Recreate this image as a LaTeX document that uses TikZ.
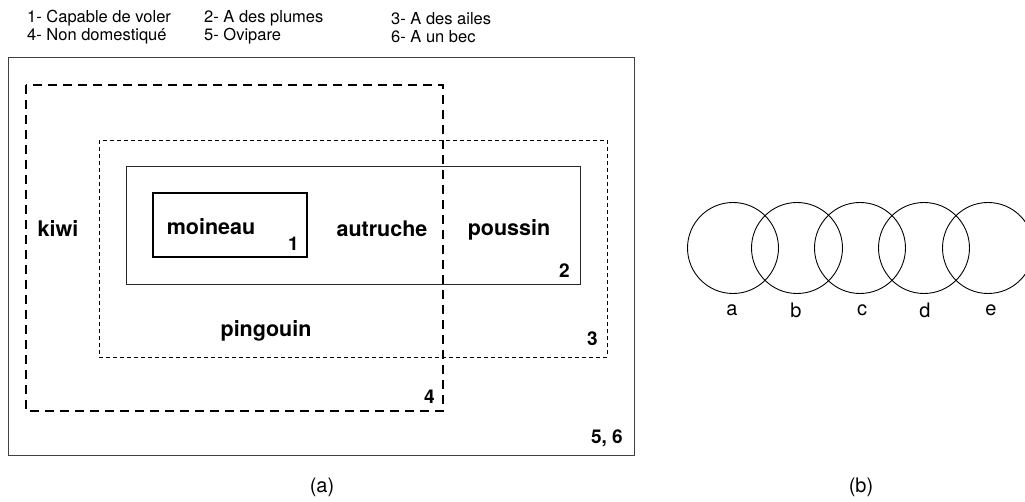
\documentclass[tikz,border=0pt]{standalone}
\usepackage{fontspec}
\setmainfont{TeX Gyre Heros}
\begin{document}
\begin{tikzpicture}[x=1pt,y=-1pt,
  legend/.style={anchor=west,inner sep=0pt,font=\fontsize{16.5}{16.5}\selectfont},
  animal/.style={inner sep=0pt,font=\bfseries\fontsize{21.5}{21.5}\selectfont},
  setnum/.style={anchor=east,inner sep=0pt,font=\bfseries\fontsize{19}{19}\selectfont},
  caption/.style={inner sep=0pt,font=\fontsize{20}{20}\selectfont},
  universe/.style={draw=black!75,line width=1pt},
  wildset/.style={draw=black,line width=2.2pt,dash pattern=on 9pt off 6pt},
  wingset/.style={draw=black,line width=0.9pt,dash pattern=on 4pt off 3pt},
  featherset/.style={draw=black!85,line width=1pt},
  flyset/.style={draw=black,line width=2pt},
  ring/.style={circle,draw=black,line width=0.9pt,minimum size=91pt,inner sep=0pt}]
\useasboundingbox (0,0) rectangle (1025,502);
\clip (0,0) rectangle (1025,502);

% legend of the properties
\node[legend] (p1) at (27,18.5) {1- Capable de voler};
\node[legend] (p2) at (204,18.5) {2- A des plumes};
\node[legend] (p3) at (391,18.5) {3- A des ailes};
\node[legend] (p4) at (27,36.5) {4- Non domestiqué};
\node[legend] (p5) at (204,36.5) {5- Ovipare};
\node[legend] (p6) at (391,36.5) {6- A un bec};

% nested property sets
\draw[universe] (8,58) rectangle (634,455);
\draw[wildset] (26,85) rectangle (443,411);
\draw[wingset] (99,140) rectangle (607,357);
\draw[featherset] (126,167) rectangle (580,284.5);
\draw[flyset] (152.5,193.5) rectangle (307,257.5);

% animals
\node[animal] (kiwi) at (58,228) {kiwi};
\node[animal] (moineau) at (211,227) {moineau};
\node[animal] (autruche) at (382,229) {autruche};
\node[animal] (poussin) at (509,230) {poussin};
\node[animal] (pingouin) at (266,331) {pingouin};

% set numbers
\node[setnum] (n1) at (299,244) {1};
\node[setnum] (n2) at (570,271) {2};
\node[setnum] (n3) at (598,339) {3};
\node[setnum] (n4) at (435,397) {4};
\node[setnum] (n56) at (623,438) {5, 6};

\node[caption] (capa) at (322,487) {(a)};

% chain of overlapping circles
\foreach \name/\cx/\lx in {a/733/732, b/797/796, c/860/862, d/924/925, e/988/991}{
  \node[ring] (c\name) at (\cx,248) {};
  \node[caption] (l\name) at (\lx,310) {\name};
}

\node[caption] (capb) at (861,487) {(b)};
\end{tikzpicture}
\end{document}
